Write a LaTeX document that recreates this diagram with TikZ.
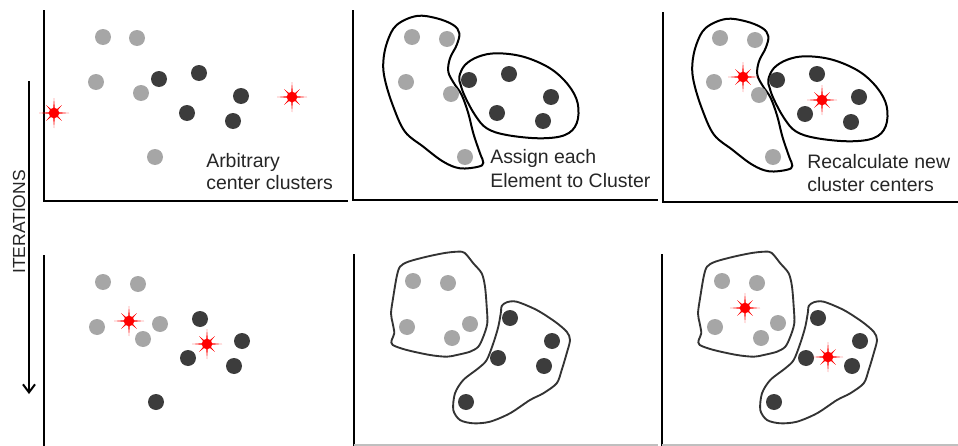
\documentclass[tikz,border=0pt]{standalone}
\usepackage{fontspec}
\setmainfont{Liberation Sans}
\usetikzlibrary{arrows.meta}
\definecolor{dotgray}{RGB}{166,166,166}
\definecolor{dotdark}{RGB}{60,60,60}
\definecolor{blobdark}{RGB}{51,51,51}
\begin{document}
\begin{tikzpicture}[x=0.75pt,y=-0.75pt,
  gdot/.style={circle,fill=dotgray,inner sep=0pt,minimum size=12pt},
  ddot/.style={circle,fill=dotdark,inner sep=0pt,minimum size=12pt},
  axisline/.style={line width=1.5pt,black},
  baseline axis/.style={line width=1pt,black!25},
  blob/.style={line width=1.5pt,black},
  blobb/.style={line width=1.4pt,blobdark},
  lbl/.style={align=left,anchor=north west,inner sep=0pt,text=black!85},
  redstar/.pic={
    \fill[red] (0:15) -- (22.5:2.5) -- (45:11) -- (67.5:2.5) -- (90:15) -- (112.5:2.5)
      -- (135:11) -- (157.5:2.5) -- (180:15) -- (202.5:2.5) -- (225:11) -- (247.5:2.5)
      -- (270:15) -- (292.5:2.5) -- (315:11) -- (337.5:2.5) -- cycle;
    \node[circle,fill=red,inner sep=0pt,minimum size=8pt] (-c) at (0,0) {};
  }
]
\useasboundingbox (0,0) rectangle (958,446);

% ---------- axes ----------
\draw[axisline] (44,10) -- (44,201) -- (348,201);
\draw[axisline] (353,10) -- (353,200) -- (658,200);
\draw[axisline] (663,12) -- (663,202) -- (958,202);
\draw[axisline] (44,255) -- (44,446);
\draw[axisline] (354,254) -- (354,446);
\draw[axisline] (662,254) -- (662,446);
\draw[baseline axis] (354,445) -- (658,445);
\draw[baseline axis] (662,445) -- (958,445);

% ---------- iterations arrow ----------
\coordinate (itTop) at (29,81);
\coordinate (itBot) at (29,394);
\draw[line width=1.5pt,-{Straight Barb[length=6pt,width=9pt]}] (itTop) -- (itBot);
\node[rotate=90,font=\fontsize{13.1}{15}\selectfont,text=black!85] (iter) at (19,222) {ITERATIONS};

% ---------- panel 1 (top-left) ----------
\node[gdot] (a1) at (103,37) {};
\node[gdot] (a2) at (137,38) {};
\node[gdot] (a3) at (96,82) {};
\node[gdot] (a4) at (141,93) {};
\node[gdot] (a5) at (155,157) {};
\node[ddot] (a6) at (159,79) {};
\node[ddot] (a7) at (199,73) {};
\node[ddot] (a8) at (241,96) {};
\node[ddot] (a9) at (187,113) {};
\node[ddot] (a10) at (233,121) {};
\pic (as1) at (54,113) {redstar};
\pic (as2) at (292,97) {redstar};
\node[lbl,font=\fontsize{14.6}{16.3}\selectfont] (t1) at (206,153) {Arbitrary\\center clusters};

% ---------- panel 2 (top-middle) ----------
\draw[blob] plot[smooth cycle,tension=0.6] coordinates {
  (396.7,25) (416.7,16) (436.7,18.3) (453.3,25) (459.3,33.3) (456.7,45) (450,58.3)
  (448.3,71.7) (454,83.3) (461.7,95) (468.3,113.3) (473.3,133.3) (480,153.3)
  (483.3,162.7) (478.3,166.7) (460,168.3) (443.3,161.7) (423.3,146.7) (405,131.7)
  (393.3,106.7) (385,80) (383.3,61.7) (387.3,41.7)};
\draw[blob] plot[smooth cycle,tension=0.6] coordinates {
  (459.3,76.7) (465,65) (478.3,56.7) (496.7,53.3) (523.3,56.7) (550,68.3) (568.3,85)
  (577.7,103.3) (576.7,123.3) (565,135) (540,138.3) (506.7,135) (486.7,128.3)
  (475,115) (465,96.7) (460.7,85)};
\node[gdot] (b1) at (412,37) {};
\node[gdot] (b2) at (447,39) {};
\node[gdot] (b3) at (406,82) {};
\node[gdot] (b4) at (451,94) {};
\node[gdot] (b5) at (465,157) {};
\node[ddot] (b6) at (469,80) {};
\node[ddot] (b7) at (509,74) {};
\node[ddot] (b8) at (551,97) {};
\node[ddot] (b9) at (497,113) {};
\node[ddot] (b10) at (543,121) {};
\node[lbl,font=\fontsize{14.6}{18}\selectfont] (t2) at (490,149) {Assign each\\Element to Cluster};

% ---------- panel 3 (top-right) ----------
\begin{scope}[shift={(309,3)}]
\draw[blob] plot[smooth cycle,tension=0.6] coordinates {
  (396.7,25) (416.7,16) (436.7,18.3) (453.3,25) (459.3,33.3) (456.7,45) (450,58.3)
  (448.3,71.7) (454,83.3) (461.7,95) (468.3,113.3) (473.3,133.3) (480,153.3)
  (483.3,162.7) (478.3,166.7) (460,168.3) (443.3,161.7) (423.3,146.7) (405,131.7)
  (393.3,106.7) (385,80) (383.3,61.7) (387.3,41.7)};
\draw[blob] plot[smooth cycle,tension=0.6] coordinates {
  (459.3,76.7) (465,65) (478.3,56.7) (496.7,53.3) (523.3,56.7) (550,68.3) (568.3,85)
  (577.7,103.3) (576.7,123.3) (565,135) (540,138.3) (506.7,135) (486.7,128.3)
  (475,115) (465,96.7) (460.7,85)};
\end{scope}
\node[gdot] (c1) at (720,38) {};
\node[gdot] (c2) at (755,40) {};
\node[gdot] (c3) at (714,82) {};
\node[gdot] (c4) at (759,95) {};
\node[gdot] (c5) at (773,157) {};
\node[ddot] (c6) at (777,80) {};
\node[ddot] (c7) at (817,74) {};
\node[ddot] (c8) at (859,97) {};
\node[ddot] (c9) at (805,114) {};
\node[ddot] (c10) at (851,122) {};
\pic (cs1) at (743,77) {redstar};
\pic (cs2) at (822,100) {redstar};
\node[lbl,font=\fontsize{14.6}{17.5}\selectfont] (t3) at (807,154) {Recalculate new\\cluster centers};

% ---------- panel 4 (bottom-left) ----------
\node[gdot] (d1) at (103,282) {};
\node[gdot] (d2) at (138,284) {};
\node[gdot] (d3) at (97,327) {};
\node[gdot] (d4) at (160,324) {};
\node[gdot] (d5) at (143,339) {};
\node[ddot] (d6) at (200,319) {};
\node[ddot] (d7) at (242,341) {};
\node[ddot] (d8) at (188,358) {};
\node[ddot] (d9) at (234,366) {};
\node[ddot] (d10) at (156,402) {};
\pic (ds1) at (129,321) {redstar};
\pic (ds2) at (207,344) {redstar};

% ---------- panel 5 (bottom-middle) ----------
\draw[blobb] plot[smooth cycle,tension=0.5] coordinates {
  (400,266.7) (408.3,261.7) (426.7,256.7) (446.7,252.7) (461.7,251.7) (466.7,255)
  (473.3,263.3) (481.7,273.3) (485,286.7) (486.7,306.7) (487.3,323.3) (483.3,336.7)
  (478.3,346.7) (470,351.7) (456.7,355) (446.7,356.7) (430,355) (406.7,350)
  (392.7,345) (391.7,340) (394.3,333.3) (392.7,323.3) (391,313.3) (393.3,296.7)
  (396.7,276.7)};
\draw[blobb] plot[smooth cycle,tension=0.5] coordinates {
  (501.7,306) (506.7,302.3) (516.7,301.7) (536.7,310) (555,321.7) (566.7,331.7)
  (570,340) (566.7,353.3) (561.7,370) (556.7,383.3) (543.3,393.3) (530,400)
  (510,413.3) (490,421.7) (473.3,423.3) (460,420) (453.3,410) (455,393.3)
  (463.3,380) (478.3,368.3) (486.7,360) (493.3,343.3) (498.3,326.7) (501,311.7)};
\node[gdot] (e1) at (413,281) {};
\node[gdot] (e2) at (448,283) {};
\node[gdot] (e3) at (407,327) {};
\node[gdot] (e4) at (470,324) {};
\node[gdot] (e5) at (452,338) {};
\node[ddot] (e6) at (510,318) {};
\node[ddot] (e7) at (552,341) {};
\node[ddot] (e8) at (498,358) {};
\node[ddot] (e9) at (544,366) {};
\node[ddot] (e10) at (466,402) {};

% ---------- panel 6 (bottom-right) ----------
\begin{scope}[shift={(307,0)}]
\draw[blobb] plot[smooth cycle,tension=0.5] coordinates {
  (400,266.7) (408.3,261.7) (426.7,256.7) (446.7,252.7) (461.7,251.7) (466.7,255)
  (473.3,263.3) (481.7,273.3) (485,286.7) (486.7,306.7) (487.3,323.3) (483.3,336.7)
  (478.3,346.7) (470,351.7) (456.7,355) (446.7,356.7) (430,355) (406.7,350)
  (392.7,345) (391.7,340) (394.3,333.3) (392.7,323.3) (391,313.3) (393.3,296.7)
  (396.7,276.7)};
\draw[blobb] plot[smooth cycle,tension=0.5] coordinates {
  (501.7,306) (506.7,302.3) (516.7,301.7) (536.7,310) (555,321.7) (566.7,331.7)
  (570,340) (566.7,353.3) (561.7,370) (556.7,383.3) (543.3,393.3) (530,400)
  (510,413.3) (490,421.7) (473.3,423.3) (460,420) (453.3,410) (455,393.3)
  (463.3,380) (478.3,368.3) (486.7,360) (493.3,343.3) (498.3,326.7) (501,311.7)};
\end{scope}
\node[gdot] (f1) at (722,281) {};
\node[gdot] (f2) at (757,283) {};
\node[gdot] (f3) at (715,327) {};
\node[gdot] (f4) at (778,323) {};
\node[gdot] (f5) at (761,338) {};
\node[ddot] (f6) at (818,318) {};
\node[ddot] (f7) at (860,341) {};
\node[ddot] (f8) at (806,358) {};
\node[ddot] (f9) at (852,366) {};
\node[ddot] (f10) at (774,402) {};
\pic (fs1) at (745,308) {redstar};
\pic (fs2) at (828,357) {redstar};
\end{tikzpicture}
\end{document}
